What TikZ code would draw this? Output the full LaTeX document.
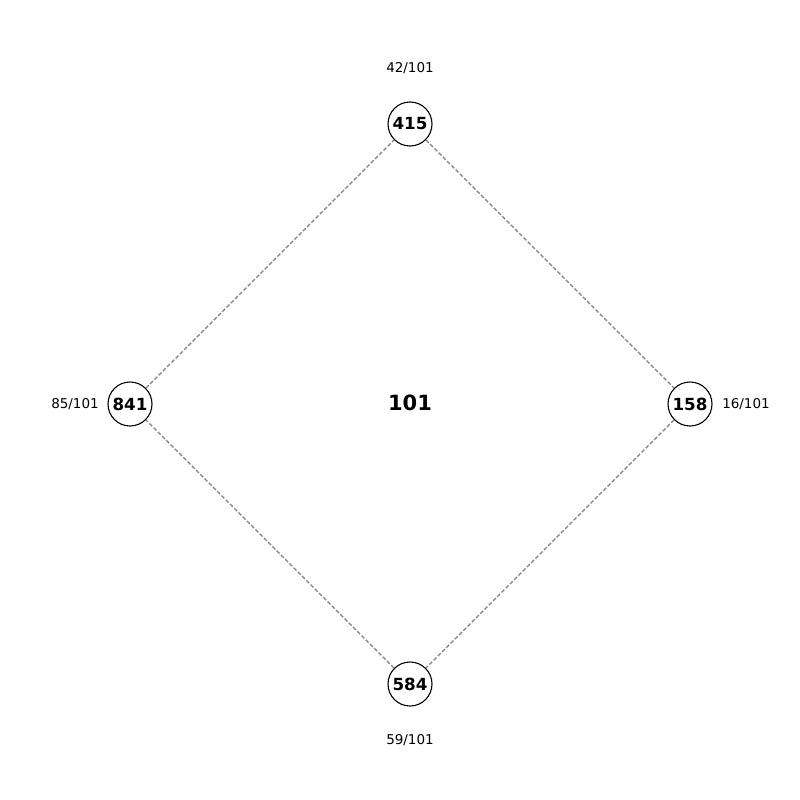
\documentclass[tikz,border=0pt]{standalone}
\usepackage{fontspec}
\setmainfont{DejaVu Sans}
\begin{document}
\begin{tikzpicture}[x=1pt,y=-1pt,
  vert/.style={circle,draw=black,line width=1.1pt,fill=white,minimum size=44pt,inner sep=0pt,font=\fontsize{16.7}{16.7}\selectfont\bfseries},
  edge/.style={draw=gray,line width=1.3pt,dash pattern=on 4pt off 2pt},
  lab/.style={font=\fontsize{13.5}{13.5}\selectfont,inner sep=0pt}]
\useasboundingbox (0,0) rectangle (800,800);
\node[vert] (a) at (410,124) {415};
\node[vert] (b) at (690,404) {158};
\node[vert] (c) at (410,684) {584};
\node[vert] (d) at (130,404) {841};
\draw[edge] (a) -- (b);
\draw[edge] (b) -- (c);
\draw[edge] (c) -- (d);
\draw[edge] (d) -- (a);
\node[font=\fontsize{21}{21}\selectfont\bfseries] (m) at (410,403) {101};
\node[lab] (la) at (410,68) {42/101};
\node[lab] (lb) at (746,404) {16/101};
\node[lab] (lc) at (410,740) {59/101};
\node[lab] (ld) at (75,404) {85/101};
\end{tikzpicture}
\end{document}
